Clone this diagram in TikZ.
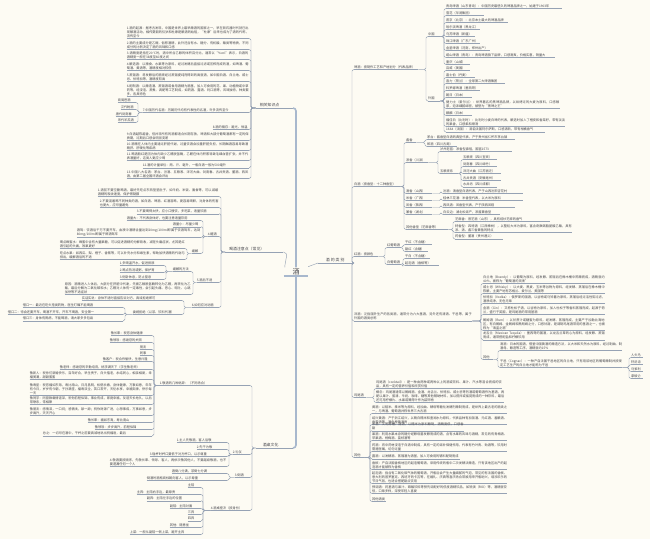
\documentclass[tikz,border=0pt]{standalone}
\usepackage{fontspec}
\newfontfamily\cjk{Noto Sans CJK SC}
\XeTeXlinebreaklocale "zh"
\XeTeXlinebreakskip=0pt plus 1pt
\definecolor{bg}{RGB}{253,251,243}
\definecolor{lc}{RGB}{150,162,180}
\definecolor{mc}{RGB}{168,184,205}
\definecolor{txt}{RGB}{70,70,76}
\tikzset{
  ul/.style={append after command={(\tikzlastnode.south west) edge[ln] (\tikzlastnode.south east)}},
  ln/.style={draw=lc,line width=0.45pt},
  it/.style={font=\cjk\fontsize{3.2}{4}\selectfont,text=txt,inner xsep=0pt,inner ysep=0.6pt,align=left,ul},
  itr/.style={it,anchor=south west},
  itl/.style={it,anchor=south east},
  maj/.style={font=\cjk\fontsize{3.9}{4.6}\selectfont,text=txt,inner xsep=0pt,inner ysep=0.8pt,align=left,ul},
  cn/.style={draw=lc,line width=0.45pt,rounded corners=1.5pt},
  mainl/.style={draw=mc,line width=1.6pt},
}
\newcommand\itR[5]{\node[itr,text width=#4pt] (#1) at (#2,#3) {#5};}
\newcommand\itL[5]{\node[itl,text width=#4pt] (#1) at (#2,#3) {#5};}
\newcommand\cnR[2]{\foreach \cc in {#2}{\draw[cn] (#1.south east) -| ([xshift=-2pt]\cc.south west) -- (\cc.south west);}}
\newcommand\cnL[2]{\foreach \cc in {#2}{\draw[cn] (#1.south west) -| ([xshift=2pt]\cc.south east) -- (\cc.south east);}}
\begin{document}
\begin{tikzpicture}[x=1pt,y=-1pt]
\fill[bg] (0,0) rectangle (650,539);
\useasboundingbox (0,0) rectangle (650,539);

% ---------- centre ----------
\node[font=\cjk\fontsize{7}{8}\selectfont,text=txt,anchor=south,minimum width=24pt,inner xsep=0pt,inner ysep=1pt] (jiu) at (296,276) {酒};
\draw[mainl,line width=1.3pt] (jiu.south west) -- (jiu.south east);
\node[maj,anchor=south east,text width=37pt] (xg) at (293,108) {\hspace*{4pt}相关知识点};
\node[maj,anchor=south east,text width=37pt] (jz) at (293,448) {\hspace*{7pt}酒桌文化};
\node[maj,anchor=south west,text width=58pt] (hj) at (225,252) {\hspace*{4pt}喝酒注意点（常见）};
\node[maj,anchor=south west,text width=34pt,align=center] (lb) at (318,263) {酒的类别};
\draw[mainl,rounded corners=3pt] (jiu.north) |- (xg.south east);
\draw[mainl,rounded corners=3pt] (jiu.south) |- (jz.south east);
\draw[cn] (hj.south east) to[out=0,in=90] ([xshift=1pt]jiu.north west);
\draw[cn] ([yshift=5pt]jiu.east) -- (lb.south west);

% ---------- right: 酒的类别 ----------
\itR{b1}{354}{69.5}{64}{啤酒：按制作工艺和产地划分（代表品牌）}
\itR{b2}{354}{186.5}{46}{白酒（按香型：十二种香型）}
\itR{b3}{354}{256.5}{24}{红酒：按颜色}
\itR{b4}{354}{321}{118}{洋酒：泛指国外生产的各类酒，通常分为六大基酒，另外还有清酒、干邑等，属于外国的酒类总称}
\itR{b5}{354}{397.5}{12}{鸡尾酒}
\itR{b6}{354}{457.5}{10}{其他}
\cnR{lb}{b1,b2,b3,b4,b5,b6}

% 啤酒
\itR{cnn}{428}{36.5}{12}{中国}
\itR{wgg}{428}{101}{12}{外国}
\cnR{b1}{cnn,wgg}
\itR{c1}{446}{8.5}{116}{青岛啤酒（山东青岛）：中国历史最悠久的啤酒品牌之一，始建于1903年}
\itR{c2}{446}{15.5}{38}{雪花（华润集团）}
\itR{c3}{446}{22.5}{62}{燕京（北京）：北京本土最大的啤酒品牌}
\itR{c4}{446}{29.5}{34}{哈尔滨啤酒（黑龙江）}
\itR{c5}{446}{36.5}{29}{乌苏啤酒（新疆）}
\itR{c6}{446}{43.5}{34}{珠江啤酒（广东广州）}
\itR{c7}{446}{50.5}{44}{金星啤酒（河南，郑州出产）}
\itR{c8}{446}{57.5}{109}{崂山啤酒（青岛）：青岛啤酒旗下品牌，口感清爽，价格实惠，销量大}
\itR{c9}{446}{64.5}{24}{重庆（山城）}
\cnR{cnn}{c1,c2,c3,c4,c5,c6,c7,c8,c9}
\itR{w1}{446}{70.5}{24}{百威（美国）}
\itR{w2}{446}{77.5}{29}{嘉士伯（丹麦）}
\itR{w3}{446}{83.5}{59}{喜力（荷兰）：全球第二大啤酒集团}
\itR{w4}{446}{90.5}{34}{科罗娜啤酒（墨西哥）}
\itR{w5}{446}{97.5}{26}{朝日（日本）}
\itR{w6}{446}{108.5}{114}{健力士（爱尔兰）：世界著名的黑啤酒品牌，以烘烤过的大麦为原料，口感醇厚，泡沫细腻绵密，被誉为“黑啤之王”}
\itR{w7}{446}{115.5}{26}{麒麟（日本）}
\itR{w8}{446}{126.5}{119}{福佳白（比利时）：比利时小麦白啤的代表，酿造时加入了橙皮和香菜籽，带有淡淡的果香，口感柔和顺滑}
\itR{w9}{446}{132}{99}{1664（法国）：源自法国阿尔萨斯，口感清新，带有柑橘香气}
\cnR{wgg}{w1,w2,w3,w4,w5,w6,w7,w8,w9}

% 白酒
\itR{jx}{406}{142.5}{10}{酱香}
\itR{nx}{406}{162.5}{22}{浓香（川派）}
\itR{qx}{406}{193.5}{26}{清香（山西）}
\itR{mx}{406}{200.5}{26}{米香（广西）}
\itR{fx}{406}{207.5}{26}{凤香（陕西）}
\itR{zx}{406}{214.5}{26}{兼香（湖北）}
\itR{qt}{406}{229.5}{42}{其他香型（芝麻香等）}
\cnR{b2}{jx,nx,qx,mx,fx,zx,qt}
\itR{jx1}{427}{139.5}{88}{茅台：酱香型白酒的典型代表，产于贵州省仁怀市茅台镇}
\itR{jx2}{427}{146.5}{30}{郎酒（四川古蔺）}
\cnR{jx}{jx1,jx2}
\itR{nx1}{440}{151.5}{72}{泸州老窖：浓香型鼻祖，国窖1573}
\itR{nx2}{440}{173.5}{18}{五粮液系}
\cnR{nx}{nx1,nx2}
\itR{ny1}{463}{159.5}{34}{五粮液（四川宜宾）}
\itR{ny2}{463}{166.5}{34}{剑南春（四川绵竹）}
\itR{ny3}{463}{173.5}{38}{洋河大曲（江苏宿迁）}
\itR{ny4}{463}{180.5}{38}{古井贡酒（安徽亳州）}
\itR{ny5}{463}{187}{34}{水井坊（四川成都）}
\cnR{nx2}{ny1,ny2,ny3,ny4,ny5}
\itR{qx1}{443}{193.5}{80}{汾酒：清香型白酒代表，产于山西汾阳杏花村}
\itR{mx1}{443}{200.5}{80}{桂林三花酒：米香型代表，以大米为原料}
\itR{fx1}{443}{207.5}{72}{西凤酒：凤香型代表，产于陕西凤翔}
\itR{zx1}{443}{214.5}{57}{白云边：湖北松滋产，浓酱兼香型}
\cnR{qx}{qx1}\cnR{mx}{mx1}\cnR{fx}{fx1}\cnR{zx}{zx1}
\itR{qt1}{455}{221.5}{95}{芝麻香：景芝酒（山东），具有焙炒芝麻的香气}
\itR{qt2}{455}{232.5}{117}{特香型：四特酒（江西樟树），以整粒大米为原料，富含奇数碳脂肪酸乙酯，具有浓、清、酱三香兼备的特点}
\itR{qt3}{455}{239}{48}{药香型：董酒（贵州遵义）}
\cnR{qt}{qt1,qt2,qt3}

% 红酒
\itR{hp}{387}{247.5}{14}{红葡萄酒}
\itR{bp}{387}{264.5}{14}{白葡萄酒}
\cnR{b3}{hp,bp}
\itR{hp1}{405}{244.5}{27}{干红（不含糖）}
\itR{hp2}{405}{251.5}{23}{甜红（含糖）}
\itR{bp1}{405}{258.5}{25}{干白（不含糖）}
\itR{bp2}{405}{265.5}{34}{起泡酒（香槟等）}
\cnR{hp}{hp1,hp2}\cnR{bp}{bp1,bp2}

% 洋酒
\itR{y1}{483}{283.5}{122}{白兰地（Brandy）：以葡萄为原料，经发酵、蒸馏后在橡木桶中陈酿而成，酒精度约40\%，被称为“葡萄酒的灵魂”}
\itR{y2}{483}{293.5}{122}{威士忌（Whisky）：以大麦、黑麦、玉米等谷物为原料，经发酵、蒸馏后在橡木桶中陈酿，主要产地有苏格兰、爱尔兰、美国等}
\itR{y3}{483}{303.5}{122}{伏特加（Vodka）：俄罗斯的国酒，以谷物或马铃薯为原料，蒸馏后经过活性炭过滤，酒质纯净，无色无味}
\itR{y4}{483}{314.5}{122}{金酒（Gin）：又称杜松子酒，以谷物为原料，加入杜松子等香料蒸馏而成，起源于荷兰，盛行于英国，是鸡尾酒的常用基酒}
\itR{y5}{483}{330.5}{122}{朗姆酒（Rum）：以甘蔗汁或糖蜜为原料，经发酵、蒸馏而成，主要产于加勒比海地区，有白朗姆、金朗姆和黑朗姆之分，口感甘甜，是调制鸡尾酒常用的基酒之一，也被称为“海盗之酒”}
\itR{y6}{483}{339.8}{122}{龙舌兰（Mexican Tequila）：墨西哥的国酒，以龙舌兰草的心为原料，经发酵、蒸馏而成，通常搭配盐和柠檬饮用}
\itR{y7}{483}{359.5}{10}{其他}
\cnR{b4}{y1,y2,y3,y4,y5,y6,y7}
\itR{y71}{500}{350.5}{122}{清酒：日本的国酒，借鉴中国黄酒的酿造方法，以大米和天然水为原料，经过制曲、制酒母、酿造等工序，酒精度约15\%}
\itR{y72}{500}{367.5}{122}{干邑（Cognac）：一种产自法国干邑地区的白兰地，只有用该地区的葡萄酿制并按规定工艺生产的白兰地才能称为干邑}
\cnR{y7}{y71,y72}
\itR{g1}{631}{357.5}{12}{人头马}
\itR{g2}{631}{364.5}{12}{轩尼诗}
\itR{g3}{631}{371.5}{12}{马爹利}
\itR{g4}{631}{378.5}{12}{拿破仑}
\cnR{y72}{g1,g2,g3,g4}

% 鸡尾酒
\itR{k1}{376}{388.5}{126}{鸡尾酒（cocktail）：是一种由两种或两种以上的酒或饮料、果汁、汽水等混合而成的饮品，具有一定的营养价值和欣赏价值}
\itR{k2}{376}{402.5}{128}{概念：鸡尾酒通常以朗姆酒、金酒、龙舌兰、伏特加、威士忌等烈酒或葡萄酒作为基酒，再配以果汁、蛋清、牛奶、咖啡、糖等其他辅助材料，加以搅拌或摇晃而成的一种饮料，最后还可用柠檬片、水果或薄荷叶作为装饰物}
\cnR{b5}{k1,k2}

% 其他
\itR{o1}{372}{413.5}{135}{黄酒：以稻米、黍米等为原料，经加曲、酵母等糖化发酵剂酿制而成，是世界上最古老的酒类之一，与啤酒、葡萄酒并称世界三大古酒}
\itR{o2}{372}{424.5}{135}{绍兴黄酒：产于浙江绍兴，以精白糯米和鉴湖水为原料，代表品种有加饭酒、元红酒、善酿酒、香雪酒等，酒色橙黄清亮}
\itR{o3}{372}{430.8}{92}{米酒：又称醪糟、甜酒，以糯米为原料酿制，酒精度低，口感香甜}
\itR{o4}{372}{440.5}{135}{果酒：利用水果本身的糖分经酵母菌发酵而成的酒，含有水果的风味与酒精，常见的有青梅酒、苹果酒、杨梅酒、荔枝酒等}
\itR{o5}{372}{451.5}{135}{药酒：将中药材浸泡于白酒中制成，具有一定的滋补保健作用，代表有竹叶青、劲酒等，饮用时需遵医嘱，切勿过量}
\itR{o6}{372}{458.8}{88}{露酒：以发酵酒、蒸馏酒为酒基，加入可食用的辅料配制而成}
\itR{o7}{372}{469.5}{135}{香槟：产自法国香槟地区的起泡葡萄酒，采用传统的瓶中二次发酵法酿造，只有该地区出产的起泡酒才能被称为香槟}
\itR{o8}{372}{483.5}{135}{起泡酒：指含有二氧化碳气体的葡萄酒，开瓶后会产生大量细腻的气泡，常见的有法国的香槟、意大利的普罗塞克、西班牙的卡瓦等，在婚礼、庆典等喜庆场合常被用来开瓶助兴，增添欢乐的节日气氛，也适合搭配甜点饮用}
\itR{o9}{372}{493.5}{135}{预调酒：将基酒与果汁、碳酸饮料等预先调配好的低度酒精饮品，如锐澳（RIO）等，酒精度较低，口味多样，深受年轻人喜爱}
\itR{o10}{372}{501.5}{14}{其他酒类}
\cnR{b6}{o1,o2,o3,o4,o5,o6,o7,o8,o9,o10}

% ---------- left: 相关知识点 ----------
\itL{a1}{249}{38.5}{122}{1.酒的起源：据考古发现，中国是世界上最早酿酒的国家之一，早在新石器时代就已出现酿酒活动，相传夏朝的仪狄和杜康是酿酒的始祖，“杜康”后来也成为了酒的代称，流传至今}
\itL{a2}{249}{49.5}{122}{2.酒的主要成分是乙醇，俗称酒精，此外还含有水、糖分、有机酸、酯类等物质，不同成分的比例决定了酒的风味和口感}
\itL{a3}{249}{59.5}{122}{3.酒精度是指在20℃时，酒中所含乙醇的体积百分比，通常以“\%vol”表示，白酒的酒精度一般在38度至60度之间}
\itL{a4}{249}{70.5}{122}{4.酿造酒：以粮食、水果等为原料，经过发酵后直接过滤或压榨而成的酒，如啤酒、葡萄酒、黄酒等，酒精度相对较低}
\itL{a5}{249}{81.5}{122}{5.蒸馏酒：将发酵后的酒液经过蒸馏提纯而得到的高度酒，如中国白酒、白兰地、威士忌、伏特加等，酒精度较高}
\itL{a6}{249}{96.5}{122}{6.配制酒：以酿造酒、蒸馏酒或食用酒精为酒基，加入可食用的花、果、动植物或中草药等，经浸泡、蒸煮、调配等工艺制成，如药酒、露酒、利口酒等，风味独特，种类繁多，各具特色}
\itL{a7}{249}{112.5}{106}{7.中国历代名酒：历朝历代均有代表性的名酒，许多流传至今}
\itL{a8}{249}{129.5}{36}{8.酒的储存：避光、恒温}
\itL{a9}{249}{140.5}{122}{9.白酒越陈越香，但并非所有的酒都适合长期存放，啤酒和大部分葡萄酒都有一定的保质期，过期后口感会明显变差}
\itL{a10}{249}{150.5}{122}{10.酒精在人体内主要通过肝脏代谢，过量饮酒会加重肝脏负担，长期酗酒容易导致酒精肝、肝硬化等疾病}
\itL{a11}{249}{160.5}{122}{11.喝酒脸红是因为体内缺少乙醛脱氢酶，乙醛在体内积累导致毛细血管扩张，并不代表酒量好，这类人更应少喝}
\itL{a12}{249}{167.8}{106}{12.酒的计量单位：两、斤、毫升，一瓶白酒一般为500毫升}
\itL{a13}{249}{178.5}{122}{13.中国八大名酒：茅台、汾酒、五粮液、洋河大曲、剑南春、古井贡酒、董酒、西凤酒，由第二届全国评酒会评出}
\cnL{xg}{a1,a2,a3,a4,a5,a6,a7,a8,a9,a10,a11,a12,a13}
\itL{a71}{136}{102.5}{18}{商周鬯酒}
\itL{a72}{136}{109.5}{15}{汉代酎酒}
\itL{a73}{136}{116.5}{20}{唐代剑南春}
\itL{a74}{136}{122.5}{18}{宋代羊羔酒}
\cnL{a7}{a71,a72,a73,a74}

% ---------- left: 喝酒注意点 ----------
\itL{h1}{219}{196.5}{121}{1.酒前不要空腹喝酒，最好先吃点东西垫垫肚子，如牛奶、米饭、面食等，可以减缓酒精的吸收速度，保护胃黏膜}
\itL{h2}{219}{207.5}{119}{2.不要混着喝不同种类的酒，如白酒、啤酒、红酒混喝，更容易喝醉，对身体的伤害也更大，应尽量避免}
\itL{h3}{219}{213.8}{82}{3.不要喝得太快，应小口慢饮，多吃菜，适量饮酒}
\itL{h4}{219}{236.5}{11}{4.醒酒}
\itL{h5}{219}{282.5}{22}{5.酒后不适}
\itL{h6}{219}{307.5}{27}{6.如何应对劝酒}
\cnL{hj}{h1,h2,h3,h4,h5,h6}
\itL{h41}{201}{220.5}{74}{酒量大：不代表身体好，也要注意适量饮用}
\itL{h42}{201}{226.8}{28}{酒量小：尽量少喝}
\itL{h43}{201}{237.5}{124}{酒驾：饮酒后千万不要开车，血液中酒精含量达到20mg/100ml即属于饮酒驾车，达到80mg/100ml即属于醉酒驾车}
\itL{h44}{201}{253.5}{9}{缓解}
\cnL{h4}{h41,h42,h43,h44}
\itL{h441}{185}{248.5}{125}{喝点蜂蜜水：蜂蜜中含有大量果糖，可以促进酒精的分解吸收，减轻头痛症状，尤其是红酒引起的头痛，效果更好}
\itL{h442}{185}{259.5}{125}{吃点水果：如西瓜、梨、橙子、香蕉等，可以补充水分和维生素，帮助加快酒精的代谢与排出，缓解酒后的不适}
\cnL{h44}{h441,h442}
\itL{h51}{191}{271.5}{18}{缓解的方法}
\itL{h52}{191}{294.5}{126}{原因：酒精进入人体后，大部分在肝脏中代谢，先被乙醇脱氢酶转化为乙醛，再转化为乙酸，最后分解为二氧化碳和水；乙醛对人体有一定毒性，会引起头痛、恶心、呕吐、心跳加快等不适症状}
\cnL{h5}{h51,h52}
\itL{h511}{164}{265.5}{44}{1.多喝温开水，促进排尿}
\itL{h512}{164}{272.5}{44}{2.喝点热汤或粥，保护胃}
\itL{h513}{164}{279.5}{44}{3.侧卧休息，防止窒息}
\cnL{h51}{h511,h512,h513}
\itL{h61}{182}{300.5}{100}{实话实说：身体不适时直接告诉对方，真诚拒绝即可}
\itL{h62}{182}{314.5}{49}{委婉拒绝（以茶、饮料代酒）}
\cnL{h6}{h61,h62}
\itL{h621}{123}{307.5}{100}{借口一：最近在吃头孢类药物，医生叮嘱不能喝酒}
\itL{h622}{123}{314.5}{115}{借口二：待会还要开车，喝酒不开车，开车不喝酒，安全第一}
\itL{h623}{123}{320.8}{100}{借口三：身体有胃病，不能喝酒，请大家多多包涵}
\cnL{h62}{h621,h622,h623}

% ---------- left: 酒桌文化 ----------
\itL{z1}{250}{385.5}{90}{1.敬酒的几种说辞：（不同场合）}
\itL{z2}{250}{454.5}{17}{2.礼仪}
\itL{z3}{250}{477.5}{15}{3.倒酒}
\itL{z4}{250}{510.5}{39}{4.酒桌座次（按身份）}
\cnL{jz}{z1,z2,z3,z4}
\itL{z11}{152}{335.5}{41}{敬长辈：祝您身体健康}
\itL{z12}{152}{342.5}{42}{敬领导：感谢您的关照}
\itL{z13}{152}{349.5}{12}{朋友}
\itL{z14}{152}{355.5}{12}{同事}
\itL{z15}{152}{361.5}{49}{敬客户：祝合作愉快，生意兴隆}
\itL{z16}{152}{369.5}{92}{敬老师：感谢您的辛勤培育，桃李满天下（学生敬老师）}
\itL{z17}{152}{379.5}{122}{敬新人：祝你们新婚快乐，百年好合，早生贵子，白头偕老，永结同心，相亲相爱，幸福美满，甜甜蜜蜜}
\itL{z18}{152}{395.5}{122}{敬寿星：祝您福如东海，寿比南山，日月昌明，松鹤长春，身体健康，万事如意，年年有今日，岁岁有今朝，子孙满堂，福寿双全，笑口常开，天伦永享，幸福安康，快乐每一天}
\itL{z19}{152}{404.5}{122}{敬同学：同窗数载情谊深，祝你前程似锦，事业有成，家庭幸福，友谊天长地久，以后常联系，常相聚}
\itL{z110}{152}{415.5}{122}{敬朋友：感情深，一口闷；感情浅，舔一舔；祝你财源广进，心想事成，万事如意，步步高升，天天开心}
\itL{z111}{152}{422.5}{64}{敬长辈：福如东海，寿比南山}
\itL{z112}{152}{429.5}{57}{敬领导：步步高升，前程似锦}
\itL{z113}{152}{435.8}{109}{总之：一切尽在酒中，干杯之前要真诚地说出祝福语，最后}
\cnL{z1}{z11,z12,z13,z14,z15,z16,z17,z18,z19,z110,z111,z112,z113}
\itL{z21}{227}{442.5}{50}{1.主人先敬酒，客人后敬}
\itL{z22}{227}{449.5}{30}{2.先干为敬}
\itL{z23}{227}{456.5}{77}{3.碰杯时杯口要低于对方杯口，以示尊重}
\itL{z24}{227}{466.5}{117}{4.敬酒要按顺序，先敬长辈、领导、客人，再依次敬其他人，不要越级敬酒，也不要遗漏任何一个人}
\cnL{z2}{z21,z22,z23,z24}
\itL{z31}{227}{473.5}{55}{酒倒八分满，茶倒七分满}
\itL{z32}{227}{480.5}{80}{倒酒时酒瓶商标朝向客人，以示尊重}
\cnL{z3}{z31,z32}
\itL{z41}{201}{487.5}{13}{主陪}
\itL{z42}{201}{494.5}{64}{主宾：主陪右手边，最尊贵}
\itL{z43}{201}{500.8}{54}{副宾：主陪左手边的位置}
\itL{z44}{201}{508.5}{31}{副陪：主陪对面}
\itL{z45}{201}{514.5}{13}{三宾}
\itL{z46}{201}{520.8}{13}{四宾}
\itL{z47}{201}{527.5}{31}{其他：随意坐}
\itL{z48}{201}{534.5}{71}{上菜：一般从副陪一侧上菜，避开主宾}
\cnL{z4}{z41,z42,z43,z44,z45,z46,z47,z48}
\end{tikzpicture}
\end{document}
